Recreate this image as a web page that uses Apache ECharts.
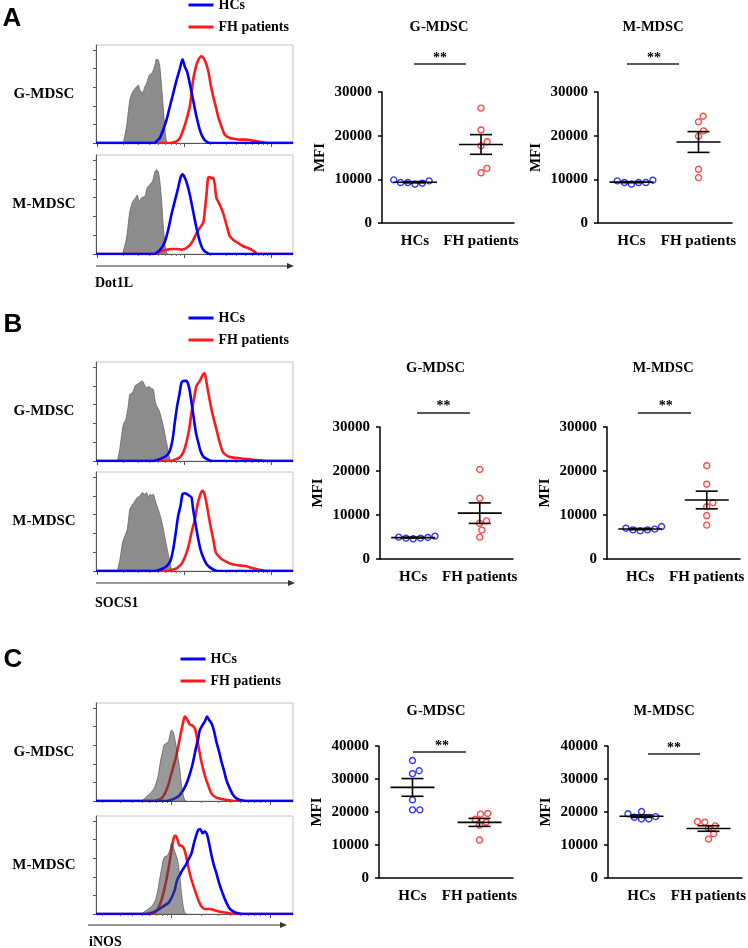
<!DOCTYPE html>
<html><head><meta charset="utf-8">
<script src="https://cdn.jsdelivr.net/npm/echarts@6/dist/echarts.min.js"></script>
<style>html,body{margin:0;padding:0;background:#fff}#c{width:748px;height:948px}</style>
</head><body><div id="c"></div>
<script>
// ================= DATA =================
const groups = ['HCs', 'FH patients'];
const cellTypes = ['G-MDSC', 'M-MDSC'];
const markers = ['Dot1L', 'SOCS1', 'iNOS'];
const yTicksAB = [0, 10000, 20000, 30000];
const yTicksC = [0, 10000, 20000, 30000, 40000];

// Histograms: [x (% of axis width), y (% of panel height)]
const A_G_iso = [[13.9,0],[15.5,16.9],[17.2,43.9],[18.6,52.4],[20.6,57.4],[21.5,59.1],[22.3,54.1],[23.6,51.4],[24.8,57.4],[26.0,62.5],[27.0,69.3],[28.2,70.9],[29.1,74.3],[29.9,79.4],[30.7,85.5],[31.6,84.8],[32.4,77.7],[33.3,57.4],[34.1,37.2],[35.0,13.5],[35.8,1.7],[36.7,0]];
const A_G_HC = [[0,0],[29.9,0],[30.7,1.7],[32.4,5.1],[34.1,13.5],[35.8,23.6],[37.5,37.2],[39.2,50.7],[40.9,64.2],[42.6,76.0],[43.9,85.5],[45.1,77.7],[46.3,72.6],[47.6,60.8],[49.3,43.9],[51.0,27.0],[52.7,13.5],[54.4,5.1],[56.1,1.4],[57.8,0],[100,0]];
const A_G_FH = [[0,0],[37.5,0],[39.2,0.7],[40.9,1.7],[42.6,5.1],[44.3,13.5],[45.9,23.6],[47.6,37.2],[48.5,50.7],[49.3,64.2],[50.7,77.7],[51.9,84.5],[53.5,88.5],[55.2,84.5],[56.9,74.3],[58.1,60.8],[59.5,47.3],[60.8,37.2],[62.0,27.0],[63.7,16.9],[65.4,8.4],[67.9,5.1],[70.4,4.1],[73.0,3.4],[76.4,3.4],[78.9,2.7],[81.4,1.7],[84.8,0.7],[88.2,0],[100,0]];
const A_M_iso = [[13.5,0],[15.5,16.2],[17.2,43.2],[18.6,52.7],[20.3,57.4],[20.9,59.5],[22.0,53.4],[23.1,56.8],[24.8,58.4],[26.0,66.9],[27.4,70.3],[28.7,73.6],[29.9,83.1],[30.7,85.1],[31.6,83.1],[32.4,73.6],[33.3,53.4],[34.1,29.7],[35.0,9.5],[35.8,1.0],[36.5,0]];
const A_M_HC = [[0,0],[29.5,0],[30.7,1.0],[33.3,6.1],[35.0,12.8],[36.7,24.7],[38.3,39.9],[40.0,53.4],[41.7,66.9],[42.9,77.0],[43.9,80.4],[45.1,77.0],[46.3,70.3],[47.6,60.1],[49.3,43.2],[51.0,26.4],[52.7,12.8],[54.4,4.4],[56.9,0.7],[58.5,0],[100,0]];
const A_M_FH = [[0,0],[29.0,0],[30.7,0.7],[33.3,2.7],[35.8,4.4],[38.3,5.1],[40.9,5.1],[43.4,4.4],[45.9,6.1],[48.5,11.1],[50.7,19.6],[52.7,26.4],[54.4,31.4],[55.2,43.2],[56.1,60.1],[56.9,77.0],[57.8,77.7],[58.6,76.4],[59.5,77.0],[60.3,70.3],[61.1,56.8],[62.8,50.0],[64.5,41.6],[66.2,29.7],[67.9,17.9],[69.6,14.5],[72.1,11.1],[74.7,7.8],[77.2,6.1],[79.7,3.4],[82.3,0],[100,0]];
const B_G_iso = [[10.8,0],[11.8,8.7],[13.0,25.5],[13.9,37.2],[15.2,42.3],[16.4,55.7],[17.2,67.4],[18.6,69.1],[19.8,75.8],[20.9,77.5],[22.3,79.2],[23.1,80.9],[24.0,79.9],[24.8,75.8],[25.7,74.2],[27.0,75.2],[28.2,73.2],[29.1,72.5],[29.9,62.4],[30.7,55.7],[32.1,50.7],[33.3,42.3],[34.5,32.2],[35.8,18.8],[36.8,8.7],[37.5,2.0],[38.3,0]];
const B_G_HC = [[0,0],[29.0,0],[30.7,0.7],[33.3,2.7],[35.8,5.4],[37.5,10.4],[38.9,22.1],[40.0,38.9],[41.2,55.7],[42.2,65.8],[43.4,79.2],[44.6,80.9],[45.9,80.9],[46.8,77.5],[47.6,70.8],[48.5,59.1],[49.7,42.3],[50.7,28.9],[51.9,18.8],[53.0,10.4],[54.4,4.7],[56.9,1.3],[59.5,0],[100,0]];
const B_G_FH = [[0,0],[37.5,0],[40.0,1.3],[42.6,3.7],[44.3,8.7],[45.9,18.8],[47.3,32.2],[48.5,49.0],[49.7,62.4],[51.0,75.8],[52.7,80.9],[54.4,87.6],[55.2,88.6],[56.1,79.2],[57.3,65.8],[58.6,52.3],[59.8,42.3],[61.1,32.2],[62.8,18.8],[64.5,8.7],[67.1,4.7],[69.6,3.4],[73.0,2.7],[76.4,2.0],[79.7,1.3],[83.1,0.7],[86.5,0],[100,0]];
const B_M_iso = [[10.8,0],[12.2,12.1],[13.5,28.9],[14.7,35.6],[15.9,42.3],[17.2,62.4],[18.6,67.4],[19.8,70.8],[20.9,74.2],[22.3,75.8],[23.6,79.2],[24.8,77.5],[25.7,79.2],[26.5,74.2],[27.4,77.5],[28.2,76.5],[29.1,77.5],[29.9,72.5],[30.7,67.4],[32.1,59.1],[33.3,50.7],[34.5,38.9],[35.8,25.5],[37.2,12.1],[38.0,3.7],[38.9,0]];
const B_M_HC = [[0,0],[29.0,0],[30.7,0.3],[33.3,2.0],[35.8,4.7],[37.8,10.4],[39.2,22.1],[40.5,38.9],[41.7,55.7],[42.9,65.8],[43.9,77.5],[45.1,78.5],[46.3,77.5],[47.6,75.8],[48.5,74.2],[49.3,62.4],[50.7,45.6],[51.9,32.2],[53.0,22.1],[54.4,13.8],[56.1,7.0],[57.8,3.7],[60.3,0.7],[62.0,0],[100,0]];
const B_M_FH = [[0,0],[35.8,0],[38.3,1.0],[40.9,2.7],[43.4,7.0],[45.1,13.8],[46.8,23.8],[48.5,38.9],[50.2,52.3],[51.4,65.8],[52.7,75.8],[53.9,80.9],[54.7,79.9],[55.7,72.5],[56.9,59.1],[58.1,45.6],[59.5,32.2],[60.8,18.8],[62.0,15.4],[63.7,12.1],[66.2,9.4],[68.8,7.0],[71.3,6.0],[73.8,5.4],[76.4,4.7],[79.7,2.7],[83.1,1.3],[86.5,0],[100,0]];
const C_G_iso = [[23.1,0],[24.8,2.7],[26.5,6.1],[28.2,9.5],[29.9,14.6],[31.6,26.5],[32.8,41.8],[33.8,50.3],[34.5,57.1],[35.5,58.8],[36.7,60.5],[37.5,67.3],[38.3,72.4],[39.2,70.7],[40.0,63.9],[40.9,53.7],[41.7,43.5],[42.6,31.6],[43.4,16.3],[44.3,6.1],[45.1,1.0],[45.9,0]];
const C_G_HC = [[0,0],[36.0,0],[37.5,0.7],[40.0,2.7],[42.2,5.4],[44.3,11.2],[46.3,19.7],[48.0,29.9],[49.3,40.1],[50.7,53.7],[51.9,63.9],[52.7,72.4],[54.1,77.6],[55.2,81.0],[56.4,86.1],[57.4,82.7],[58.6,79.3],[59.8,72.4],[61.1,60.5],[62.5,50.3],[63.7,40.1],[64.9,31.6],[66.2,21.4],[67.9,12.9],[69.6,6.1],[71.3,2.7],[73.8,0.7],[76.4,0],[100,0]];
const C_G_FH = [[0,0],[29.5,0],[30.7,0.7],[33.3,2.7],[35.0,7.8],[36.7,16.3],[38.3,28.2],[40.0,40.1],[41.2,50.3],[42.2,60.5],[43.2,70.7],[44.3,81.0],[45.1,86.1],[45.9,84.4],[46.8,81.0],[47.6,78.2],[49.0,76.9],[50.2,74.1],[51.0,67.3],[52.2,53.7],[53.5,40.1],[55.2,26.5],[56.9,16.3],[58.6,7.8],[61.1,3.4],[64.5,1.7],[67.9,0.7],[71.3,0],[100,0]];
const C_M_iso = [[23.1,0],[24.8,2.7],[26.5,5.1],[28.2,7.8],[29.9,12.9],[31.1,21.4],[32.1,33.2],[33.3,46.8],[34.1,55.3],[35.0,58.6],[36.1,59.3],[37.5,65.4],[38.3,72.2],[39.2,68.8],[40.0,63.7],[40.9,58.6],[41.7,51.9],[42.6,38.3],[43.4,21.4],[44.3,7.8],[45.1,1.0],[45.9,0]];
const C_M_HC = [[0,0],[25.7,0],[29.1,1.7],[31.6,4.4],[34.1,7.8],[36.7,11.2],[38.3,16.3],[40.0,24.7],[41.2,34.9],[42.6,40.0],[43.9,45.1],[45.6,50.2],[47.3,56.9],[48.5,62.0],[49.7,72.2],[50.7,79.0],[51.9,85.8],[53.0,86.4],[54.1,82.4],[55.2,84.1],[56.4,80.7],[57.4,72.2],[58.6,60.3],[59.8,50.2],[61.1,41.7],[62.5,31.5],[64.2,21.4],[65.9,12.9],[67.6,6.1],[69.6,2.7],[72.1,0.7],[74.7,0],[100,0]];
const C_M_FH = [[0,0],[27.4,0],[29.9,1.7],[31.6,6.1],[33.3,14.6],[35.0,28.1],[36.7,45.1],[37.8,58.6],[38.9,72.2],[39.7,79.0],[40.5,79.7],[41.4,75.6],[42.2,70.5],[43.4,69.5],[44.6,67.1],[45.6,60.3],[46.8,48.5],[48.0,38.3],[49.3,29.8],[50.7,21.4],[51.9,14.6],[53.5,7.8],[55.2,5.1],[57.8,5.1],[59.5,4.4],[62.0,2.7],[64.5,1.7],[67.9,0.7],[71.3,0],[100,0]];

// MFI scatter values
const A_G_HCs = [9640, 9260, 8880, 9110, 9260, 9870];
const A_G_FHp = [26300, 21300, 18600, 17700, 12500, 11500];
const A_M_HCs = [9640, 9260, 8880, 9260, 9260, 9800];
const A_M_FHp = [24450, 23160, 21100, 19900, 12300, 10400];
const B_G_HCs = [4970, 4750, 4600, 4750, 4900, 5200];
const B_G_FHp = [20350, 13800, 8670, 8140, 6560, 4970];
const B_M_HCs = [7000, 6630, 6400, 6630, 6780, 7380];
const B_M_FHp = [21200, 17000, 12800, 11900, 9870, 7690];
const C_G_HCs = [35600, 32500, 31600, 23700, 20650, 20650];
const C_G_FHp = [19350, 19550, 16900, 17800, 16000, 11500];
const C_M_HCs = [19450, 18400, 17900, 17900, 18600, 20150];
const C_M_FHp = [17100, 15800, 15000, 16900, 13400, 11800];

// ================= LAYOUT / STYLE =================
const SERIF = 'Liberation Serif';
const BLUE = '#0000ff', RED = '#ff1a1a';
const rows = [
  { letter:'A', letterPos:[12,19], legend:{left:187, top:-2}, marker:0, markerPos:[95,283],
    arrow:{y:266, x1:96, x2:294}, dec:{start:0.6, w:44.2}, isoOver:false,
    hist:[{top:45,h:98,iso:A_G_iso,hc:A_G_HC,fh:A_G_FH},{top:155,h:99,iso:A_M_iso,hc:A_M_HC,fh:A_M_FH}],
    sc:[{left:382,top:92,w:132,h:131,ticks:yTicksAB,hc:A_G_HCs,fh:A_G_FHp,title:[439,27],star:[440,58],sig:{y:64,x1:414,x2:466}},
        {left:598,top:92,w:134,h:131,ticks:yTicksAB,hc:A_M_HCs,fh:A_M_FHp,title:[653,27],star:[654,58],sig:{y:64,x1:627,x2:679}}]},
  { letter:'B', letterPos:[13,325], legend:{left:187, top:311}, marker:1, markerPos:[95,603],
    arrow:{y:583, x1:96, x2:295}, dec:{start:0.6, w:44.2}, isoOver:false,
    hist:[{top:362,h:99,iso:B_G_iso,hc:B_G_HC,fh:B_G_FH},{top:472,h:99,iso:B_M_iso,hc:B_M_HC,fh:B_M_FH}],
    sc:[{left:380,top:427,w:133,h:132,ticks:yTicksAB,hc:B_G_HCs,fh:B_G_FHp,title:[435.5,368],star:[443.5,406],sig:{y:413,x1:417,x2:470}},
        {left:607,top:427,w:133,h:132,ticks:yTicksAB,hc:B_M_HCs,fh:B_M_FHp,title:[663,368],star:[665.7,406],sig:{y:413,x1:638,x2:691}}]},
  { letter:'C', letterPos:[13,660], legend:{left:179, top:652}, marker:2, markerPos:[89,942],
    arrow:{y:925, x1:88, x2:287}, dec:{start:-11.6, w:49.9}, isoOver:true,
    hist:[{top:703,h:98,iso:C_G_iso,hc:C_G_HC,fh:C_G_FH},{top:816,h:98,iso:C_M_iso,hc:C_M_HC,fh:C_M_FH}],
    sc:[{left:379,top:746,w:134,h:132,ticks:yTicksC,hc:C_G_HCs,fh:C_G_FHp,title:[436,711],star:[442,746],sig:{y:752,x1:413,x2:466}},
        {left:608,top:746,w:134,h:132,ticks:yTicksC,hc:C_M_HCs,fh:C_M_FHp,title:[664,711],star:[674,748],sig:{y:754,x1:648,x2:700}}]}
];

// ================= HELPERS =================
function meanSem(a){const n=a.length;const m=a.reduce((s,v)=>s+v,0)/n;const sd=Math.sqrt(a.reduce((s,v)=>s+(v-m)*(v-m),0)/(n-1));return [m, sd/Math.sqrt(n)];}
function swarm(values, ppu, d){
  const idx = values.map((v,i)=>i).sort((a,b)=>values[a]-values[b]);
  const placed=[], off=new Array(values.length).fill(0);
  for(const i of idx){
    const y=values[i]*ppu; const c=[0];
    for(const p of placed){const dy=Math.abs(p.y-y); if(dy<d){const dx=Math.sqrt(d*d-dy*dy); c.push(p.x+dx,p.x-dx);}}
    c.sort((a,b)=>(Math.abs(a)-Math.abs(b))||(b-a));
    for(const x of c){ if(placed.every(p=>(p.x-x)*(p.x-x)+(p.y-y)*(p.y-y)>=d*d-0.01)){off[i]=x;placed.push({x,y});break;} }
  }
  return off;
}
function logTicks(start,w){const major=[],minor=[];for(let k=-1;k<4;k++){const b=start+k*w;if(b>=-0.01&&b<=100)major.push(Math.max(0,b));for(let m=2;m<10;m++){const v=b+w*Math.log10(m);if(v>=0&&v<=100)minor.push(v);}}return {major,minor};}
const txt = (size, extra) => Object.assign({fontFamily:SERIF, fontWeight:'bold', fontSize:size, color:'#000'}, extra||{});

const option = {animation:false, backgroundColor:'#fff', textStyle:{fontFamily:SERIF},
  grid:[], xAxis:[], yAxis:[], series:[], title:[], legend:[], graphic:[]};

function addTitle(text, x, y, size, align, family){
  option.title.push({text, left:x, top:y, padding:0, textAlign:align||'center', textVerticalAlign:'middle',
    textStyle:txt(size, family?{fontFamily:family}:{})});
}

function addHist(p, row, labelText){
  const gi = option.grid.length;
  option.grid.push({left:96, width:197, top:p.top, height:p.h, show:true, borderColor:'#c4c4c4', borderWidth:1, outerBoundsMode:'none'});
  const t = logTicks(row.dec.start, row.dec.w);
  const xi = option.xAxis.length;
  option.xAxis.push({type:'value', gridIndex:gi, min:0, max:100, axisLine:{show:true,lineStyle:{color:'#555',width:1}},
    axisTick:{show:true, customValues:t.major, length:4, lineStyle:{color:'#555'}}, axisLabel:{show:false}, splitLine:{show:false}});
  option.xAxis.push({type:'value', gridIndex:gi, min:0, max:100, position:'bottom', axisLine:{show:false},
    axisTick:{show:true, customValues:t.minor, length:2, lineStyle:{color:'#777'}}, axisLabel:{show:false}, splitLine:{show:false}});
  const yi = option.yAxis.length;
  option.yAxis.push({type:'value', gridIndex:gi, min:0, max:100, axisLine:{show:true,lineStyle:{color:'#555',width:1}},
    axisTick:{show:true, customValues:[0,19,38,57,76,95], length:3, lineStyle:{color:'#555'}}, axisLabel:{show:false}, splitLine:{show:false}});
  const line = (name, data, color, z) => ({type:'line', name, xAxisIndex:xi, yAxisIndex:yi, data, symbol:'none', smooth:0.25,
    lineStyle:{color, width:2.6}, itemStyle:{color}, z, silent:true});
  option.series.push(line('FH patients', p.fh, RED, 3));
  option.series.push(line('HCs', p.hc, BLUE, 4));
  option.series.push({type:'line', name:'Isotype', xAxisIndex:xi, yAxisIndex:yi, data:p.iso, symbol:'none', smooth:0.25, silent:true,
    lineStyle:{color: row.isoOver?'rgba(40,40,40,0.6)':'#666', width:0.8},
    areaStyle:{color: row.isoOver?'rgba(70,70,70,0.55)':'#8c8c8c', opacity:1},
    itemStyle:{color:'#8c8c8c'}, z: row.isoOver?6:2});
  addTitle(labelText, 44, p.top + p.h/2, 15);
}

function addScatter(s, label){
  const gi = option.grid.length;
  option.grid.push({left:s.left, top:s.top, width:s.w, height:s.h, outerBoundsMode:'none'});
  const xi = option.xAxis.length, yi = option.yAxis.length;
  const ax = {color:'#000', width:1.5};
  option.xAxis.push({type:'category', gridIndex:gi, data:groups, boundaryGap:true, axisLine:{lineStyle:ax},
    axisTick:{alignWithLabel:true, length:4, lineStyle:ax}, axisLabel:txt(15,{margin:11, interval:0}), splitLine:{show:false}});
  const max = s.ticks[s.ticks.length-1];
  option.yAxis.push({type:'value', gridIndex:gi, min:s.ticks[0], max, interval:s.ticks[1]-s.ticks[0],
    name:'MFI', nameLocation:'middle', nameGap:54, nameTextStyle:txt(15),
    axisLine:{show:true, lineStyle:ax}, axisTick:{show:true, length:4, lineStyle:ax},
    axisLabel:txt(15,{margin:10, formatter:v=>String(v)}), splitLine:{show:false}});
  const ppu = s.h / max;
  [[s.hc, BLUE, 0, 'HCs'], [s.fh, RED, 1, 'FH patients']].forEach(([vals, color, ci, name]) => {
    const off = swarm(vals, ppu, 7.3);
    option.series.push({type:'scatter', name, xAxisIndex:xi, yAxisIndex:yi, symbol:'circle', symbolSize:6, silent:true,
      itemStyle:{color:'rgba(255,255,255,0)', borderColor:color, borderWidth:1.4}, z:3,
      data: vals.map((v,i)=>({value:[ci, v], symbolOffset:[off[i],0]}))});
  });
  const ms = [meanSem(s.hc), meanSem(s.fh)];
  option.series.push({type:'custom', xAxisIndex:xi, yAxisIndex:yi, silent:true, z:5,
    data: ms.map((v,i)=>[i, v[0], v[1]]), encode:{x:0, y:1},
    renderItem(params, api){
      const c=api.value(0), m=api.value(1), e=api.value(2);
      const p=api.coord([c,m]), pt=api.coord([c,m+e]), pb=api.coord([c,m-e]);
      const st={stroke:'#000', lineWidth:1.6};
      return {type:'group', children:[
        {type:'line', shape:{x1:p[0]-22,y1:p[1],x2:p[0]+22,y2:p[1]}, style:st},
        {type:'line', shape:{x1:p[0]-11,y1:pt[1],x2:p[0]+11,y2:pt[1]}, style:st},
        {type:'line', shape:{x1:p[0]-11,y1:pb[1],x2:p[0]+11,y2:pb[1]}, style:st},
        {type:'line', shape:{x1:p[0],y1:pt[1],x2:p[0],y2:pb[1]}, style:st}]};
    }});
  addTitle(label, s.title[0], s.title[1], 14.5);
  addTitle('**', s.star[0], s.star[1], 14);
  option.graphic.push({type:'line', shape:{x1:s.sig.x1, y1:s.sig.y, x2:s.sig.x2, y2:s.sig.y}, style:{stroke:'#222', lineWidth:1.5}, silent:true});
}

rows.forEach(row => {
  addTitle(row.letter, row.letterPos[0], row.letterPos[1], 26, 'center', 'Liberation Sans');
  row.hist.forEach((p, i) => addHist(p, row, cellTypes[i]));
  row.sc.forEach((s, i) => addScatter(s, cellTypes[i]));
  addTitle(markers[row.marker], row.markerPos[0], row.markerPos[1], 14, 'left');
  option.legend.push({data:['HCs','FH patients'], orient:'vertical', left:row.legend.left, top:row.legend.top, padding:0,
    itemWidth:25, itemHeight:14, itemGap:8, selectedMode:false, itemStyle:{opacity:0}, lineStyle:{width:3},
    textStyle:txt(14,{lineHeight:14})});
  const a=row.arrow;
  option.graphic.push({type:'line', shape:{x1:a.x1, y1:a.y, x2:a.x2-5, y2:a.y}, style:{stroke:'#333', lineWidth:1}, silent:true});
  option.graphic.push({type:'polygon', shape:{points:[[a.x2,a.y],[a.x2-7,a.y-3],[a.x2-7,a.y+3]]}, style:{fill:'#333'}, silent:true});
});

const chart = echarts.init(document.getElementById('c'), null, {renderer:'canvas', width:748, height:948});
chart.setOption(option);
</script></body></html>
